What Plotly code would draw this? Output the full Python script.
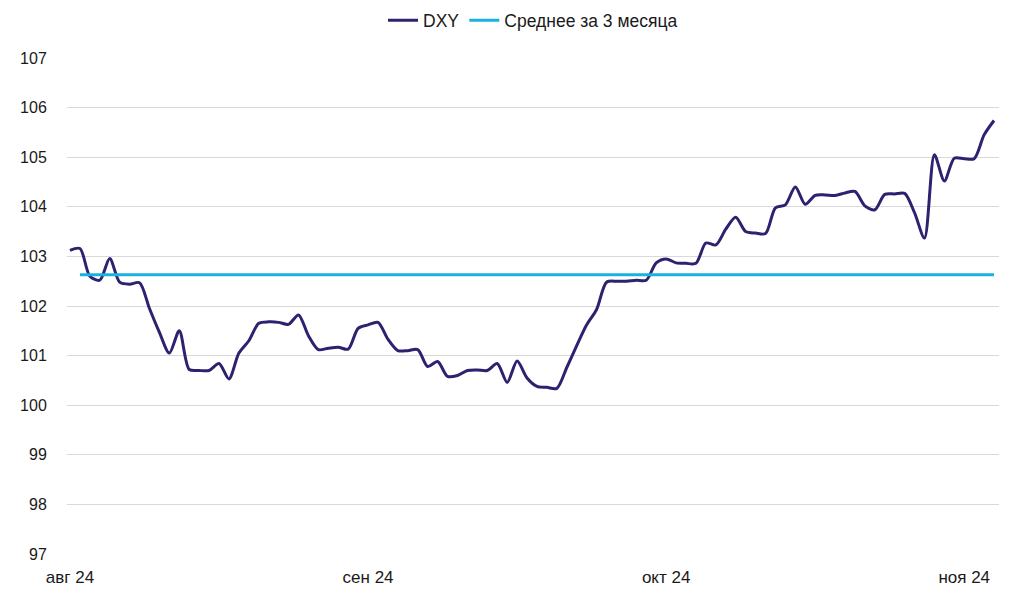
import plotly.graph_objects as go

# Tick labels (category axis, one every 30 points)
tick_positions = [0, 30, 60, 90]
tick_labels = ["авг 24", "сен 24", "окт 24", "ноя 24"]

# DXY series values
dxy = [
    103.12, 103.16, 102.60, 102.52, 102.96, 102.48, 102.44, 102.47, 101.95, 101.47,
    101.05, 101.50, 100.72, 100.70, 100.70, 100.84, 100.53, 101.05, 101.30, 101.65,
    101.68, 101.67, 101.63, 101.82, 101.40, 101.12, 101.15, 101.17, 101.13, 101.55,
    101.62, 101.67, 101.33, 101.10, 101.10, 101.12, 100.78, 100.88, 100.58, 100.60,
    100.70, 100.71, 100.70, 100.84, 100.46, 100.89, 100.55, 100.38, 100.36, 100.34,
    100.76, 101.20, 101.62, 101.93, 102.48, 102.50, 102.50, 102.52, 102.52, 102.87,
    102.95, 102.87, 102.86, 102.86, 103.27, 103.23, 103.55, 103.79, 103.50, 103.47,
    103.46, 103.98, 104.04, 104.40, 104.05, 104.23, 104.24, 104.23, 104.28, 104.31,
    104.02, 103.94, 104.25, 104.26, 104.27, 103.88, 103.37, 105.05, 104.52, 104.98,
    104.97, 104.97, 105.45, 105.74,
]
# 3-month average
avg_value = 102.63
avg_start = 1

x_idx = list(range(len(dxy)))
avg_x = x_idx[avg_start:]
avg_y = [avg_value] * len(avg_x)

fig = go.Figure()
fig.add_trace(go.Scatter(
    x=x_idx, y=dxy, mode="lines", name="DXY",
    line=dict(color="#2d2170", width=3, shape="spline", smoothing=0.8),
))
fig.add_trace(go.Scatter(
    x=avg_x, y=avg_y, mode="lines", name="Среднее за 3 месяца",
    line=dict(color="#19b2e0", width=3),
))

fig.update_layout(
    width=1024, height=596,
    margin=dict(l=67, r=25, t=58, b=42),
    paper_bgcolor="white", plot_bgcolor="white",
    font=dict(family="Liberation Sans, Arial, sans-serif", size=16, color="#1a1a1a"),
    showlegend=True,
    legend=dict(orientation="h", x=0.5, xanchor="center", y=0.966, yanchor="middle",
                yref="container", font=dict(size=17.5), itemwidth=30,
                traceorder="normal"),
    xaxis=dict(
        range=[-0.3, 93.5], showgrid=False, zeroline=False, showline=False,
        automargin=False,
        tickmode="array", tickvals=tick_positions, ticktext=tick_labels,
        ticks="outside", ticklen=8, tickcolor="rgba(0,0,0,0)",
        tickfont=dict(size=17),
    ),
    yaxis=dict(
        range=[97, 107], dtick=1, showgrid=True, gridcolor="#d9d9d9", gridwidth=1,
        zeroline=False, showline=False, automargin=False,
        ticks="outside", ticklen=16, tickcolor="rgba(0,0,0,0)",
        tickfont=dict(size=16),
    ),
)

fig.write_html("out.html", config={"displayModeBar": False},
               post_script="document.body.style.margin='0';")
